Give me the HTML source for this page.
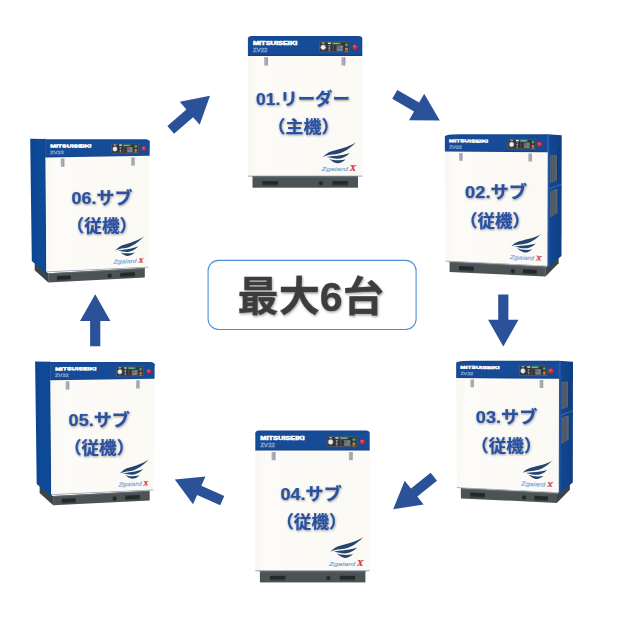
<!DOCTYPE html>
<html lang="ja"><head><meta charset="utf-8"><title>最大6台</title>
<style>
html,body{margin:0;padding:0;background:#fff}
body{width:620px;height:621px;position:relative;overflow:hidden;font-family:"Liberation Sans",sans-serif}
svg{display:block;position:absolute;left:0;top:0}
svg text{font-family:"Liberation Sans","Noto Sans CJK JP",sans-serif}
svg text.sx{font-family:"Liberation Serif",serif}
</style></head><body>
<svg width="620" height="621" viewBox="0 0 620 621">
<defs>
<linearGradient id="gbody" x1="0" y1="0" x2="1" y2="0"><stop offset="0" stop-color="#f8f7f2"/><stop offset=".1" stop-color="#fcfbf7"/><stop offset="1" stop-color="#faf9f4"/></linearGradient>
<linearGradient id="ghead" x1="0" y1="0" x2="0" y2="1"><stop offset="0" stop-color="#154892"/><stop offset=".2" stop-color="#174c98"/><stop offset=".9" stop-color="#164a95"/><stop offset="1" stop-color="#113c7e"/></linearGradient>
<linearGradient id="gsideR" x1="0" y1="0" x2="1" y2="0"><stop offset="0" stop-color="#124994"/><stop offset="1" stop-color="#0e3f86"/></linearGradient>
<linearGradient id="gsideL" x1="0" y1="0" x2="1" y2="0"><stop offset="0" stop-color="#0b448f"/><stop offset=".4" stop-color="#0e4a97"/><stop offset=".9" stop-color="#0e4995"/><stop offset="1" stop-color="#0b3f84"/></linearGradient>
<filter id="tsh" x="-5%" y="-20%" width="110%" height="150%"><feDropShadow dx=".5" dy="1" stdDeviation=".9" flood-color="#000" flood-opacity=".38"/></filter>
<filter id="csh" x="-5%" y="-20%" width="110%" height="150%"><feDropShadow dx=".8" dy="1.4" stdDeviation="1.2" flood-color="#000" flood-opacity=".35"/></filter>
</defs>
<rect width="620" height="621" fill="#fff"/>
<g transform="translate(247.9 35.9)">
<rect x="4.6" y="140" width="105.5" height="11.8" fill="#4c5355"/>
<polygon points="4.6,140.3 110.1,140.3 110.1,141.54 4.6,141.54" fill="#676e71" opacity=".85"/>
<polygon points="14.58,145.24 30.15,145.24 30.15,150.09 14.58,150.09" fill="#3b4143"/>
<polygon points="14.58,145.24 30.15,145.24 30.15,148.66 14.58,148.66" fill="#24282a"/>
<polygon points="84.55,145.24 99.82,145.24 99.82,150.09 84.55,150.09" fill="#3b4143"/>
<polygon points="84.55,145.24 99.82,145.24 99.82,148.66 84.55,148.66" fill="#24282a"/>
<circle cx="73.07" cy="147.33" r="2.5" fill="#3a4043"/>
<circle cx="73.07" cy="147.33" r="1.7" fill="#222628"/>
<rect x="0" y="19.5" width="114.4" height="120.8" fill="url(#gbody)"/>
<rect x="0" y="139.8" width="114.4" height=".8" fill="#3a4a72" opacity=".6"/>
<path d="M0,20 V2.6 Q0.3,0.3 3.6,0 H110.8 Q114.1,0.3 114.4,2.6 V20 Z" fill="url(#ghead)"/>
<polygon points="16.3,21.3 20.1,21.3 20.1,29.6 16.3,29.6" fill="#a9adb9"/>
<polygon points="18.9,21.3 20.1,21.3 20.1,29.6 18.9,29.6" fill="#8e93a1" opacity=".55"/>
<polygon points="93.6,21.3 97.4,21.3 97.4,29.6 93.6,29.6" fill="#a9adb9"/>
<polygon points="96.2,21.3 97.4,21.3 97.4,29.6 96.2,29.6" fill="#8e93a1" opacity=".55"/>
<g transform="matrix(1.0000 0.0000 0.0000 1.0000 0.0000 0.0000)" fill="#fff" stroke="#fff" stroke-width=".45" stroke-linejoin="round"><text x="5" y="9.25" font-size="4.8" font-weight="bold" textLength="44.4" lengthAdjust="spacingAndGlyphs">MITSUISEIKI</text></g>
<g transform="matrix(1.0000 0.0000 0.0000 1.0000 0.0000 0.0000)" fill="none" stroke="#b9cbea" stroke-width=".55" opacity=".6"><text x="5.1" y="16.2" font-size="4.7" textLength="14.5" lengthAdjust="spacingAndGlyphs" fill="#b9cbea">ZV22</text></g>
<g transform="matrix(1.0000 0.0000 0.0000 1.0000 0.0000 0.0000)"><g transform="translate(0 0) scale(1 1)">
<rect x="71.3" y="5.8" width="30.7" height="10.4" rx=".6" fill="#30363a"/>
<rect x="71.6" y="6.1" width="30.1" height="9.8" rx=".5" fill="none" stroke="#6c757b" stroke-width=".5"/>
<circle cx="75.3" cy="11.4" r="2.4" fill="#e9edef"/>
<circle cx="75.3" cy="11.4" r="2.5" fill="none" stroke="#aeb6bd" stroke-width=".5"/>
<rect x="73.8" y="6.6" width="3" height="1.1" fill="#dfe3e6" opacity=".8"/>
<rect x="80" y="6.7" width="3.2" height="1.3" fill="#f0f2f3"/>
<rect x="84.4" y="6.6" width="8.4" height="1.9" fill="#3b9468"/>
<rect x="85.4" y="7.1" width="5.4" height=".9" fill="#8fd3ac" opacity=".8"/>
<rect x="80.6" y="9.3" width="1.7" height=".85" fill="#b9bfc4"/>
<rect x="84.7" y="9.3" width="1.2" height=".85" fill="#a5454b"/>
<rect x="80.6" y="10.85" width="1.7" height=".85" fill="#b9bfc4"/>
<rect x="84.7" y="10.85" width="1.2" height=".85" fill="#a5454b"/>
<rect x="80.6" y="12.4" width="1.7" height=".85" fill="#b9bfc4"/>
<rect x="84.7" y="12.4" width="1.2" height=".85" fill="#a5454b"/>
<rect x="80.6" y="13.95" width="1.7" height=".85" fill="#b9bfc4"/>
<rect x="84.7" y="13.95" width="1.2" height=".85" fill="#a5454b"/>
<rect x="88.6" y="9.4" width="6.6" height="5.9" fill="#5d6b78"/>
<rect x="89.2" y="10" width="2.2" height="2" fill="#a9555d"/>
<rect x="92.2" y="10" width="2.4" height="2" fill="#7f8d99"/>
<rect x="89.2" y="12.8" width="5.4" height="2" fill="#76838f"/>
<circle cx="98.6" cy="8.9" r="1.55" fill="#3fa57c"/>
<circle cx="98.6" cy="13.2" r="1.55" fill="#e0782f"/>
<rect x="96.8" y="15" width="3.6" height=".7" fill="#9aa3aa" opacity=".7"/>
</g></g>
<g transform="matrix(1.0000 0.0000 0.0000 1.0000 0.0000 0.0000)"><circle cx="107.1" cy="11.1" r="2.5" fill="#d62833"/><circle cx="106.6" cy="10.5" r="1.2" fill="#ee6e73" opacity=".8"/></g>
<g transform="matrix(1.0000 0.0000 0.0000 1.0000 0.0000 0.0000)"><g transform="translate(70.1 102.1) scale(0.07097)" fill="#25446f">
<path d="M537,60 C470,112 330,150 192,186 C140,204 100,234 70,267 C110,249 160,238 212,234 C300,228 407,193 537,60Z"/>
<path d="M116,268 C200,250 330,252 447,210 C402,263 332,290 270,292 C220,292 180,274 116,268Z"/>
<path d="M158,291 C210,315 300,323 390,304 C352,340 300,358 270,355 C230,348 190,321 158,291Z"/>
</g></g>
<g transform="matrix(1.0000 0.0000 0.0000 1.0000 0.0000 0.0000)" fill="#78a6da" stroke="#78a6da" stroke-width=".18"><text x="73.6" y="135.6" font-size="6.1" font-style="italic" textLength="26.3" lengthAdjust="spacingAndGlyphs">Zgaiard</text></g>
<g transform="matrix(1.0000 0.0000 0.0000 1.0000 0.0000 0.0000)" fill="#cf3347" stroke="#cf3347" stroke-width=".15"><text class="sx" x="101.8" y="135.6" font-size="7.3" font-style="italic" font-weight="bold" textLength="6.4" lengthAdjust="spacingAndGlyphs">X</text></g>
</g>
<g transform="translate(0 0)">
<polygon points="545.5,267.6 547.3,266 558.6,257.6 558.6,263.3 545.5,276.5" fill="#3d4446"/>
<polygon points="449.6,261.7 545.7,266.6 545.7,276.4 449.6,271.9" fill="#4c5355"/>
<polygon points="449.6,261.7 545.7,266.6 545.7,267.65 449.6,262.8" fill="#676e71" opacity=".85"/>
<polygon points="459.03,266.04 473.59,266.76 473.59,271.77 459.03,271.08" fill="#3b4143"/>
<polygon points="459.03,266.04 473.59,266.76 473.59,270.52 459.03,269.82" fill="#24282a"/>
<polygon points="523.12,269.21 536.67,269.88 536.67,274.76 523.12,274.12" fill="#3b4143"/>
<polygon points="523.12,269.21 536.67,269.88 536.67,273.54 523.12,272.89" fill="#24282a"/>
<circle cx="512.84" cy="271" r="2.5" fill="#3a4043"/>
<circle cx="512.84" cy="271" r="1.7" fill="#222628"/>
<polygon points="547.5,134.3 561.7,135.3 561.5,255.9 547.3,267.2" fill="url(#gsideR)"/>
<polygon points="547.5,134.3 549.4,134.5 549.2,265.7 547.3,267.2" fill="#2f5fae" opacity=".7"/>
<polygon points="550.1,155.6 557,155 557,180.4 550.1,183" fill="#5b6674"/>
<polygon points="550.1,191 557.4,188.8 557.4,213 550.1,217.6" fill="#5b6674"/>
<line x1="551.6" y1="156" x2="551.6" y2="181.5" stroke="#444e5b" stroke-width=".7"/>
<line x1="551.6" y1="190.6" x2="551.6" y2="215.5" stroke="#444e5b" stroke-width=".7"/>
<line x1="553.3" y1="156" x2="553.3" y2="181.5" stroke="#444e5b" stroke-width=".7"/>
<line x1="553.3" y1="190.6" x2="553.3" y2="215.5" stroke="#444e5b" stroke-width=".7"/>
<line x1="555" y1="156" x2="555" y2="181.5" stroke="#444e5b" stroke-width=".7"/>
<line x1="555" y1="190.6" x2="555" y2="215.5" stroke="#444e5b" stroke-width=".7"/>
<line x1="557.5" y1="154.5" x2="557.5" y2="181" stroke="#12306a" stroke-width=".9"/>
<line x1="549.6" y1="188.6" x2="561.6" y2="184.2" stroke="#7f95bb" stroke-width=".6" opacity=".85"/>
<rect x="558.8" y="148" width=".9" height="3.4" fill="#12306a"/>
<rect x="559.6" y="171" width=".9" height="4" fill="#12306a"/>
<polygon points="444.95,151.19 547.65,151.85 547.3,266.1 445.6,261.2" fill="url(#gbody)"/>
<polygon points="445.6,260.75 547.3,265.63 547.3,266.29 445.6,261.38" fill="#3a4a72" opacity=".55"/>
<path d="M444.85,151.62 L444.85,136.2 Q445.5,134.9 452,134.4 L461,134.3 L547.7,134.3 L547.65,152.3 Z" fill="url(#ghead)"/>
<polygon points="459.12,152.93 462.44,152.96 462.47,160.75 459.15,160.72" fill="#a9adb9"/>
<polygon points="461.39,152.95 462.44,152.96 462.47,160.75 461.42,160.74" fill="#8e93a1" opacity=".55"/>
<polygon points="528.38,153.42 531.88,153.45 531.87,161.44 528.37,161.41" fill="#a9adb9"/>
<polygon points="530.77,153.44 531.88,153.45 531.87,161.44 530.76,161.43" fill="#8e93a1" opacity=".55"/>
<g transform="matrix(0.8805 0.0022 0.0034 0.8741 444.6484 134.2453)" fill="#fff" stroke="#fff" stroke-width=".45" stroke-linejoin="round"><text x="5" y="9.25" font-size="4.8" font-weight="bold" textLength="44.4" lengthAdjust="spacingAndGlyphs">MITSUISEIKI</text></g>
<g transform="matrix(0.8713 0.0042 0.0043 0.8689 444.8183 134.2644)" fill="none" stroke="#b9cbea" stroke-width=".55" opacity=".6"><text x="5.1" y="16.2" font-size="4.7" textLength="14.5" lengthAdjust="spacingAndGlyphs" fill="#b9cbea">ZV22</text></g>
<g transform="matrix(0.9160 0.0033 -0.0007 0.8912 442.6508 134.0219)"><g transform="translate(0 -1.1) scale(1 1.1)">
<rect x="71.3" y="5.8" width="30.7" height="10.4" rx=".6" fill="#30363a"/>
<rect x="71.6" y="6.1" width="30.1" height="9.8" rx=".5" fill="none" stroke="#6c757b" stroke-width=".5"/>
<circle cx="75.3" cy="11.4" r="2.4" fill="#e9edef"/>
<circle cx="75.3" cy="11.4" r="2.5" fill="none" stroke="#aeb6bd" stroke-width=".5"/>
<rect x="73.8" y="6.6" width="3" height="1.1" fill="#dfe3e6" opacity=".8"/>
<rect x="80" y="6.7" width="3.2" height="1.3" fill="#f0f2f3"/>
<rect x="84.4" y="6.6" width="8.4" height="1.9" fill="#3b9468"/>
<rect x="85.4" y="7.1" width="5.4" height=".9" fill="#8fd3ac" opacity=".8"/>
<rect x="80.6" y="9.3" width="1.7" height=".85" fill="#b9bfc4"/>
<rect x="84.7" y="9.3" width="1.2" height=".85" fill="#a5454b"/>
<rect x="80.6" y="10.85" width="1.7" height=".85" fill="#b9bfc4"/>
<rect x="84.7" y="10.85" width="1.2" height=".85" fill="#a5454b"/>
<rect x="80.6" y="12.4" width="1.7" height=".85" fill="#b9bfc4"/>
<rect x="84.7" y="12.4" width="1.2" height=".85" fill="#a5454b"/>
<rect x="80.6" y="13.95" width="1.7" height=".85" fill="#b9bfc4"/>
<rect x="84.7" y="13.95" width="1.2" height=".85" fill="#a5454b"/>
<rect x="88.6" y="9.4" width="6.6" height="5.9" fill="#5d6b78"/>
<rect x="89.2" y="10" width="2.2" height="2" fill="#a9555d"/>
<rect x="92.2" y="10" width="2.4" height="2" fill="#7f8d99"/>
<rect x="89.2" y="12.8" width="5.4" height="2" fill="#76838f"/>
<circle cx="98.6" cy="8.9" r="1.55" fill="#3fa57c"/>
<circle cx="98.6" cy="13.2" r="1.55" fill="#e0782f"/>
<rect x="96.8" y="15" width="3.6" height=".7" fill="#9aa3aa" opacity=".7"/>
</g></g>
<g transform="matrix(0.9280 0.0034 -0.0021 0.8970 441.5033 133.9503)"><circle cx="105.8" cy="11.1" r="2.75" fill="#d62833"/><circle cx="105.3" cy="10.5" r="1.2" fill="#ee6e73" opacity=".8"/></g>
<g transform="matrix(0.9114 0.0368 -0.0011 0.9285 443.0873 131.9635)"><g transform="translate(70.1 101.1) scale(0.07097)" fill="#25446f">
<path d="M537,60 C470,112 330,150 192,186 C140,204 100,234 70,267 C110,249 160,238 212,234 C300,228 407,193 537,60Z"/>
<path d="M116,268 C200,250 330,252 447,210 C402,263 332,290 270,292 C220,292 180,274 116,268Z"/>
<path d="M158,291 C210,315 300,323 390,304 C352,340 300,358 270,355 C230,348 190,321 158,291Z"/>
</g></g>
<g transform="matrix(0.9071 0.0416 -0.0008 0.9245 443.4206 132.0295)" fill="#78a6da" stroke="#78a6da" stroke-width=".18"><text x="73.6" y="134.1" font-size="6.1" font-style="italic" textLength="26.3" lengthAdjust="spacingAndGlyphs">Zgaiard</text></g>
<g transform="matrix(0.9182 0.0421 -0.0021 0.9301 442.5381 131.2439)" fill="#cf3347" stroke="#cf3347" stroke-width=".15"><text class="sx" x="101.8" y="134.1" font-size="7.3" font-style="italic" font-weight="bold" textLength="6.4" lengthAdjust="spacingAndGlyphs">X</text></g>
</g>
<g transform="translate(11.3 226.5)">
<polygon points="545.5,267.6 547.3,266 558.6,257.6 558.6,263.3 545.5,276.5" fill="#3d4446"/>
<polygon points="449.6,261.7 545.7,266.6 545.7,276.4 449.6,271.9" fill="#4c5355"/>
<polygon points="449.6,261.7 545.7,266.6 545.7,267.65 449.6,262.8" fill="#676e71" opacity=".85"/>
<polygon points="459.03,266.04 473.59,266.76 473.59,271.77 459.03,271.08" fill="#3b4143"/>
<polygon points="459.03,266.04 473.59,266.76 473.59,270.52 459.03,269.82" fill="#24282a"/>
<polygon points="523.12,269.21 536.67,269.88 536.67,274.76 523.12,274.12" fill="#3b4143"/>
<polygon points="523.12,269.21 536.67,269.88 536.67,273.54 523.12,272.89" fill="#24282a"/>
<circle cx="512.84" cy="271" r="2.5" fill="#3a4043"/>
<circle cx="512.84" cy="271" r="1.7" fill="#222628"/>
<polygon points="547.5,134.3 561.7,135.3 561.5,255.9 547.3,267.2" fill="url(#gsideR)"/>
<polygon points="547.5,134.3 549.4,134.5 549.2,265.7 547.3,267.2" fill="#2f5fae" opacity=".7"/>
<polygon points="550.1,155.6 557,155 557,180.4 550.1,183" fill="#5b6674"/>
<polygon points="550.1,191 557.4,188.8 557.4,213 550.1,217.6" fill="#5b6674"/>
<line x1="551.6" y1="156" x2="551.6" y2="181.5" stroke="#444e5b" stroke-width=".7"/>
<line x1="551.6" y1="190.6" x2="551.6" y2="215.5" stroke="#444e5b" stroke-width=".7"/>
<line x1="553.3" y1="156" x2="553.3" y2="181.5" stroke="#444e5b" stroke-width=".7"/>
<line x1="553.3" y1="190.6" x2="553.3" y2="215.5" stroke="#444e5b" stroke-width=".7"/>
<line x1="555" y1="156" x2="555" y2="181.5" stroke="#444e5b" stroke-width=".7"/>
<line x1="555" y1="190.6" x2="555" y2="215.5" stroke="#444e5b" stroke-width=".7"/>
<line x1="557.5" y1="154.5" x2="557.5" y2="181" stroke="#12306a" stroke-width=".9"/>
<line x1="549.6" y1="188.6" x2="561.6" y2="184.2" stroke="#7f95bb" stroke-width=".6" opacity=".85"/>
<rect x="558.8" y="148" width=".9" height="3.4" fill="#12306a"/>
<rect x="559.6" y="171" width=".9" height="4" fill="#12306a"/>
<polygon points="444.95,151.19 547.65,151.85 547.3,266.1 445.6,261.2" fill="url(#gbody)"/>
<polygon points="445.6,260.75 547.3,265.63 547.3,266.29 445.6,261.38" fill="#3a4a72" opacity=".55"/>
<path d="M444.85,151.62 L444.85,136.2 Q445.5,134.9 452,134.4 L461,134.3 L547.7,134.3 L547.65,152.3 Z" fill="url(#ghead)"/>
<polygon points="459.12,152.93 462.44,152.96 462.47,160.75 459.15,160.72" fill="#a9adb9"/>
<polygon points="461.39,152.95 462.44,152.96 462.47,160.75 461.42,160.74" fill="#8e93a1" opacity=".55"/>
<polygon points="528.38,153.42 531.88,153.45 531.87,161.44 528.37,161.41" fill="#a9adb9"/>
<polygon points="530.77,153.44 531.88,153.45 531.87,161.44 530.76,161.43" fill="#8e93a1" opacity=".55"/>
<g transform="matrix(0.8805 0.0022 0.0034 0.8741 444.6484 134.2453)" fill="#fff" stroke="#fff" stroke-width=".45" stroke-linejoin="round"><text x="5" y="9.25" font-size="4.8" font-weight="bold" textLength="44.4" lengthAdjust="spacingAndGlyphs">MITSUISEIKI</text></g>
<g transform="matrix(0.8713 0.0042 0.0043 0.8689 444.8183 134.2644)" fill="none" stroke="#b9cbea" stroke-width=".55" opacity=".6"><text x="5.1" y="16.2" font-size="4.7" textLength="14.5" lengthAdjust="spacingAndGlyphs" fill="#b9cbea">ZV22</text></g>
<g transform="matrix(0.9160 0.0033 -0.0007 0.8912 442.6508 134.0219)"><g transform="translate(0 -1.1) scale(1 1.1)">
<rect x="71.3" y="5.8" width="30.7" height="10.4" rx=".6" fill="#30363a"/>
<rect x="71.6" y="6.1" width="30.1" height="9.8" rx=".5" fill="none" stroke="#6c757b" stroke-width=".5"/>
<circle cx="75.3" cy="11.4" r="2.4" fill="#e9edef"/>
<circle cx="75.3" cy="11.4" r="2.5" fill="none" stroke="#aeb6bd" stroke-width=".5"/>
<rect x="73.8" y="6.6" width="3" height="1.1" fill="#dfe3e6" opacity=".8"/>
<rect x="80" y="6.7" width="3.2" height="1.3" fill="#f0f2f3"/>
<rect x="84.4" y="6.6" width="8.4" height="1.9" fill="#3b9468"/>
<rect x="85.4" y="7.1" width="5.4" height=".9" fill="#8fd3ac" opacity=".8"/>
<rect x="80.6" y="9.3" width="1.7" height=".85" fill="#b9bfc4"/>
<rect x="84.7" y="9.3" width="1.2" height=".85" fill="#a5454b"/>
<rect x="80.6" y="10.85" width="1.7" height=".85" fill="#b9bfc4"/>
<rect x="84.7" y="10.85" width="1.2" height=".85" fill="#a5454b"/>
<rect x="80.6" y="12.4" width="1.7" height=".85" fill="#b9bfc4"/>
<rect x="84.7" y="12.4" width="1.2" height=".85" fill="#a5454b"/>
<rect x="80.6" y="13.95" width="1.7" height=".85" fill="#b9bfc4"/>
<rect x="84.7" y="13.95" width="1.2" height=".85" fill="#a5454b"/>
<rect x="88.6" y="9.4" width="6.6" height="5.9" fill="#5d6b78"/>
<rect x="89.2" y="10" width="2.2" height="2" fill="#a9555d"/>
<rect x="92.2" y="10" width="2.4" height="2" fill="#7f8d99"/>
<rect x="89.2" y="12.8" width="5.4" height="2" fill="#76838f"/>
<circle cx="98.6" cy="8.9" r="1.55" fill="#3fa57c"/>
<circle cx="98.6" cy="13.2" r="1.55" fill="#e0782f"/>
<rect x="96.8" y="15" width="3.6" height=".7" fill="#9aa3aa" opacity=".7"/>
</g></g>
<g transform="matrix(0.9280 0.0034 -0.0021 0.8970 441.5033 133.9503)"><circle cx="105.8" cy="11.1" r="2.75" fill="#d62833"/><circle cx="105.3" cy="10.5" r="1.2" fill="#ee6e73" opacity=".8"/></g>
<g transform="matrix(0.9114 0.0368 -0.0011 0.9285 443.0873 131.9635)"><g transform="translate(70.1 101.1) scale(0.07097)" fill="#25446f">
<path d="M537,60 C470,112 330,150 192,186 C140,204 100,234 70,267 C110,249 160,238 212,234 C300,228 407,193 537,60Z"/>
<path d="M116,268 C200,250 330,252 447,210 C402,263 332,290 270,292 C220,292 180,274 116,268Z"/>
<path d="M158,291 C210,315 300,323 390,304 C352,340 300,358 270,355 C230,348 190,321 158,291Z"/>
</g></g>
<g transform="matrix(0.9071 0.0416 -0.0008 0.9245 443.4206 132.0295)" fill="#78a6da" stroke="#78a6da" stroke-width=".18"><text x="73.6" y="134.1" font-size="6.1" font-style="italic" textLength="26.3" lengthAdjust="spacingAndGlyphs">Zgaiard</text></g>
<g transform="matrix(0.9182 0.0421 -0.0021 0.9301 442.5381 131.2439)" fill="#cf3347" stroke="#cf3347" stroke-width=".15"><text class="sx" x="101.8" y="134.1" font-size="7.3" font-style="italic" font-weight="bold" textLength="6.4" lengthAdjust="spacingAndGlyphs">X</text></g>
</g>
<g transform="translate(255.3 430.6)">
<rect x="4.6" y="140" width="105.5" height="11.8" fill="#4c5355"/>
<polygon points="4.6,140.3 110.1,140.3 110.1,141.54 4.6,141.54" fill="#676e71" opacity=".85"/>
<polygon points="14.58,145.24 30.15,145.24 30.15,150.09 14.58,150.09" fill="#3b4143"/>
<polygon points="14.58,145.24 30.15,145.24 30.15,148.66 14.58,148.66" fill="#24282a"/>
<polygon points="84.55,145.24 99.82,145.24 99.82,150.09 84.55,150.09" fill="#3b4143"/>
<polygon points="84.55,145.24 99.82,145.24 99.82,148.66 84.55,148.66" fill="#24282a"/>
<circle cx="73.07" cy="147.33" r="2.5" fill="#3a4043"/>
<circle cx="73.07" cy="147.33" r="1.7" fill="#222628"/>
<rect x="0" y="19.5" width="114.4" height="120.8" fill="url(#gbody)"/>
<rect x="0" y="139.8" width="114.4" height=".8" fill="#3a4a72" opacity=".6"/>
<path d="M0,20 V2.6 Q0.3,0.3 3.6,0 H110.8 Q114.1,0.3 114.4,2.6 V20 Z" fill="url(#ghead)"/>
<polygon points="16.3,21.3 20.1,21.3 20.1,29.6 16.3,29.6" fill="#a9adb9"/>
<polygon points="18.9,21.3 20.1,21.3 20.1,29.6 18.9,29.6" fill="#8e93a1" opacity=".55"/>
<polygon points="93.6,21.3 97.4,21.3 97.4,29.6 93.6,29.6" fill="#a9adb9"/>
<polygon points="96.2,21.3 97.4,21.3 97.4,29.6 96.2,29.6" fill="#8e93a1" opacity=".55"/>
<g transform="matrix(1.0000 0.0000 0.0000 1.0000 0.0000 0.0000)" fill="#fff" stroke="#fff" stroke-width=".45" stroke-linejoin="round"><text x="5" y="9.25" font-size="4.8" font-weight="bold" textLength="44.4" lengthAdjust="spacingAndGlyphs">MITSUISEIKI</text></g>
<g transform="matrix(1.0000 0.0000 0.0000 1.0000 0.0000 0.0000)" fill="none" stroke="#b9cbea" stroke-width=".55" opacity=".6"><text x="5.1" y="16.2" font-size="4.7" textLength="14.5" lengthAdjust="spacingAndGlyphs" fill="#b9cbea">ZV22</text></g>
<g transform="matrix(1.0000 0.0000 0.0000 1.0000 0.0000 0.0000)"><g transform="translate(0 0) scale(1 1)">
<rect x="71.3" y="5.8" width="30.7" height="10.4" rx=".6" fill="#30363a"/>
<rect x="71.6" y="6.1" width="30.1" height="9.8" rx=".5" fill="none" stroke="#6c757b" stroke-width=".5"/>
<circle cx="75.3" cy="11.4" r="2.4" fill="#e9edef"/>
<circle cx="75.3" cy="11.4" r="2.5" fill="none" stroke="#aeb6bd" stroke-width=".5"/>
<rect x="73.8" y="6.6" width="3" height="1.1" fill="#dfe3e6" opacity=".8"/>
<rect x="80" y="6.7" width="3.2" height="1.3" fill="#f0f2f3"/>
<rect x="84.4" y="6.6" width="8.4" height="1.9" fill="#3b9468"/>
<rect x="85.4" y="7.1" width="5.4" height=".9" fill="#8fd3ac" opacity=".8"/>
<rect x="80.6" y="9.3" width="1.7" height=".85" fill="#b9bfc4"/>
<rect x="84.7" y="9.3" width="1.2" height=".85" fill="#a5454b"/>
<rect x="80.6" y="10.85" width="1.7" height=".85" fill="#b9bfc4"/>
<rect x="84.7" y="10.85" width="1.2" height=".85" fill="#a5454b"/>
<rect x="80.6" y="12.4" width="1.7" height=".85" fill="#b9bfc4"/>
<rect x="84.7" y="12.4" width="1.2" height=".85" fill="#a5454b"/>
<rect x="80.6" y="13.95" width="1.7" height=".85" fill="#b9bfc4"/>
<rect x="84.7" y="13.95" width="1.2" height=".85" fill="#a5454b"/>
<rect x="88.6" y="9.4" width="6.6" height="5.9" fill="#5d6b78"/>
<rect x="89.2" y="10" width="2.2" height="2" fill="#a9555d"/>
<rect x="92.2" y="10" width="2.4" height="2" fill="#7f8d99"/>
<rect x="89.2" y="12.8" width="5.4" height="2" fill="#76838f"/>
<circle cx="98.6" cy="8.9" r="1.55" fill="#3fa57c"/>
<circle cx="98.6" cy="13.2" r="1.55" fill="#e0782f"/>
<rect x="96.8" y="15" width="3.6" height=".7" fill="#9aa3aa" opacity=".7"/>
</g></g>
<g transform="matrix(1.0000 0.0000 0.0000 1.0000 0.0000 0.0000)"><circle cx="107.1" cy="11.1" r="2.5" fill="#d62833"/><circle cx="106.6" cy="10.5" r="1.2" fill="#ee6e73" opacity=".8"/></g>
<g transform="matrix(1.0000 0.0000 0.0000 1.0000 0.0000 0.0000)"><g transform="translate(70.1 102.1) scale(0.07097)" fill="#25446f">
<path d="M537,60 C470,112 330,150 192,186 C140,204 100,234 70,267 C110,249 160,238 212,234 C300,228 407,193 537,60Z"/>
<path d="M116,268 C200,250 330,252 447,210 C402,263 332,290 270,292 C220,292 180,274 116,268Z"/>
<path d="M158,291 C210,315 300,323 390,304 C352,340 300,358 270,355 C230,348 190,321 158,291Z"/>
</g></g>
<g transform="matrix(1.0000 0.0000 0.0000 1.0000 0.0000 0.0000)" fill="#78a6da" stroke="#78a6da" stroke-width=".18"><text x="73.6" y="135.6" font-size="6.1" font-style="italic" textLength="26.3" lengthAdjust="spacingAndGlyphs">Zgaiard</text></g>
<g transform="matrix(1.0000 0.0000 0.0000 1.0000 0.0000 0.0000)" fill="#cf3347" stroke="#cf3347" stroke-width=".15"><text class="sx" x="101.8" y="135.6" font-size="7.3" font-style="italic" font-weight="bold" textLength="6.4" lengthAdjust="spacingAndGlyphs">X</text></g>
</g>
<g transform="translate(4.9 222.8)">
<polygon points="34.7,263 48.3,273.6 48.3,282.4 34.7,270.2" fill="#3d4446"/>
<polygon points="48.2,273.3 144.8,268 144.8,277.6 48.2,282.4" fill="#4c5355"/>
<polygon points="48.2,273.3 144.8,268 144.8,269.03 48.2,274.28" fill="#676e71" opacity=".85"/>
<polygon points="56.91,276.3 70.66,275.57 70.66,280.14 56.91,280.83" fill="#3b4143"/>
<polygon points="56.91,276.3 70.66,275.57 70.66,279 56.91,279.7" fill="#24282a"/>
<polygon points="120.44,272.94 134.92,272.17 134.92,276.91 120.44,277.64" fill="#3b4143"/>
<polygon points="120.44,272.94 134.92,272.17 134.92,275.72 120.44,276.46" fill="#24282a"/>
<circle cx="109.71" cy="275.69" r="2.5" fill="#3a4043"/>
<circle cx="109.71" cy="275.69" r="1.7" fill="#222628"/>
<polygon points="30.2,138.8 45.6,139 46.4,272.4 48.5,274 47.6,274.6 34.7,263.6 31.8,261.1" fill="url(#gsideL)"/>
<polygon points="44.6,138.6 45.6,138.6 46.4,272.4 45.5,271.6" fill="#0a3a7c" opacity=".5"/>
<polygon points="45.43,157.07 149.62,155.41 148.4,267.2 46.3,272" fill="url(#gbody)"/>
<polygon points="46.3,271.54 148.4,266.75 148.4,267.38 46.3,272.19" fill="#3a4a72" opacity=".55"/>
<path d="M45.44,157.53 L45.3,139.2 L146,139.3 Q149.2,139.7 149.8,141.5 L149.62,155.83 Z" fill="url(#ghead)"/>
<polygon points="60.77,158.56 64.32,158.5 64.35,166.68 60.81,166.74" fill="#a9adb9"/>
<polygon points="63.2,158.52 64.32,158.5 64.35,166.68 63.23,166.7" fill="#8e93a1" opacity=".55"/>
<polygon points="131.24,157.42 134.61,157.36 134.54,165.61 131.18,165.66" fill="#a9adb9"/>
<polygon points="133.55,157.38 134.61,157.36 134.54,165.61 133.48,165.62" fill="#8e93a1" opacity=".55"/>
<g transform="matrix(0.9303 -0.0057 0.0027 0.8963 45.5625 139.3625)" fill="#fff" stroke="#fff" stroke-width=".45" stroke-linejoin="round"><text x="5" y="9.25" font-size="4.8" font-weight="bold" textLength="44.4" lengthAdjust="spacingAndGlyphs">MITSUISEIKI</text></g>
<g transform="matrix(0.9385 -0.0111 0.0050 0.9057 45.3745 139.3650)" fill="none" stroke="#b9cbea" stroke-width=".55" opacity=".6"><text x="5.1" y="16.2" font-size="4.7" textLength="14.5" lengthAdjust="spacingAndGlyphs" fill="#b9cbea">ZV22</text></g>
<g transform="matrix(0.8942 -0.0080 -0.0056 0.8511 47.6861 139.9113)"><g transform="translate(0 -1.1) scale(1 1.1)">
<rect x="71.3" y="5.8" width="30.7" height="10.4" rx=".6" fill="#30363a"/>
<rect x="71.6" y="6.1" width="30.1" height="9.8" rx=".5" fill="none" stroke="#6c757b" stroke-width=".5"/>
<circle cx="75.3" cy="11.4" r="2.4" fill="#e9edef"/>
<circle cx="75.3" cy="11.4" r="2.5" fill="none" stroke="#aeb6bd" stroke-width=".5"/>
<rect x="73.8" y="6.6" width="3" height="1.1" fill="#dfe3e6" opacity=".8"/>
<rect x="80" y="6.7" width="3.2" height="1.3" fill="#f0f2f3"/>
<rect x="84.4" y="6.6" width="8.4" height="1.9" fill="#3b9468"/>
<rect x="85.4" y="7.1" width="5.4" height=".9" fill="#8fd3ac" opacity=".8"/>
<rect x="80.6" y="9.3" width="1.7" height=".85" fill="#b9bfc4"/>
<rect x="84.7" y="9.3" width="1.2" height=".85" fill="#a5454b"/>
<rect x="80.6" y="10.85" width="1.7" height=".85" fill="#b9bfc4"/>
<rect x="84.7" y="10.85" width="1.2" height=".85" fill="#a5454b"/>
<rect x="80.6" y="12.4" width="1.7" height=".85" fill="#b9bfc4"/>
<rect x="84.7" y="12.4" width="1.2" height=".85" fill="#a5454b"/>
<rect x="80.6" y="13.95" width="1.7" height=".85" fill="#b9bfc4"/>
<rect x="84.7" y="13.95" width="1.2" height=".85" fill="#a5454b"/>
<rect x="88.6" y="9.4" width="6.6" height="5.9" fill="#5d6b78"/>
<rect x="89.2" y="10" width="2.2" height="2" fill="#a9555d"/>
<rect x="92.2" y="10" width="2.4" height="2" fill="#7f8d99"/>
<rect x="89.2" y="12.8" width="5.4" height="2" fill="#76838f"/>
<circle cx="98.6" cy="8.9" r="1.55" fill="#3fa57c"/>
<circle cx="98.6" cy="13.2" r="1.55" fill="#e0782f"/>
<rect x="96.8" y="15" width="3.6" height=".7" fill="#9aa3aa" opacity=".7"/>
</g></g>
<g transform="matrix(0.8819 -0.0080 -0.0083 0.8356 48.9155 140.0788)"><circle cx="107.9" cy="11.1" r="2.75" fill="#d62833"/><circle cx="107.4" cy="10.5" r="1.2" fill="#ee6e73" opacity=".8"/></g>
<g transform="matrix(0.8756 -0.0346 -0.0067 0.9078 49.3811 144.4626)"><g transform="translate(70.8 101.1) scale(0.07097)" fill="#25446f">
<path d="M537,60 C470,112 330,150 192,186 C140,204 100,234 70,267 C110,249 160,238 212,234 C300,228 407,193 537,60Z"/>
<path d="M116,268 C200,250 330,252 447,210 C402,263 332,290 270,292 C220,292 180,274 116,268Z"/>
<path d="M158,291 C210,315 300,323 390,304 C352,340 300,358 270,355 C230,348 190,321 158,291Z"/>
</g></g>
<g transform="matrix(0.8761 -0.0392 -0.0060 0.9044 49.2399 145.2954)" fill="#78a6da" stroke="#78a6da" stroke-width=".18"><text x="74.3" y="134.2" font-size="6.1" font-style="italic" textLength="26.3" lengthAdjust="spacingAndGlyphs">Zgaiard</text></g>
<g transform="matrix(0.8662 -0.0388 -0.0085 0.8994 50.5342 145.9240)" fill="#cf3347" stroke="#cf3347" stroke-width=".15"><text class="sx" x="102.5" y="134.2" font-size="7.3" font-style="italic" font-weight="bold" textLength="6.4" lengthAdjust="spacingAndGlyphs">X</text></g>
</g>
<g transform="translate(0 0)">
<polygon points="34.7,263 48.3,273.6 48.3,282.4 34.7,270.2" fill="#3d4446"/>
<polygon points="48.2,273.3 144.8,268 144.8,277.6 48.2,282.4" fill="#4c5355"/>
<polygon points="48.2,273.3 144.8,268 144.8,269.03 48.2,274.28" fill="#676e71" opacity=".85"/>
<polygon points="56.91,276.3 70.66,275.57 70.66,280.14 56.91,280.83" fill="#3b4143"/>
<polygon points="56.91,276.3 70.66,275.57 70.66,279 56.91,279.7" fill="#24282a"/>
<polygon points="120.44,272.94 134.92,272.17 134.92,276.91 120.44,277.64" fill="#3b4143"/>
<polygon points="120.44,272.94 134.92,272.17 134.92,275.72 120.44,276.46" fill="#24282a"/>
<circle cx="109.71" cy="275.69" r="2.5" fill="#3a4043"/>
<circle cx="109.71" cy="275.69" r="1.7" fill="#222628"/>
<polygon points="30.2,138.8 45.6,139 46.4,272.4 48.5,274 47.6,274.6 34.7,263.6 31.8,261.1" fill="url(#gsideL)"/>
<polygon points="44.6,138.6 45.6,138.6 46.4,272.4 45.5,271.6" fill="#0a3a7c" opacity=".5"/>
<polygon points="45.43,157.07 149.62,155.41 148.4,267.2 46.3,272" fill="url(#gbody)"/>
<polygon points="46.3,271.54 148.4,266.75 148.4,267.38 46.3,272.19" fill="#3a4a72" opacity=".55"/>
<path d="M45.44,157.53 L45.3,139.2 L146,139.3 Q149.2,139.7 149.8,141.5 L149.62,155.83 Z" fill="url(#ghead)"/>
<polygon points="60.77,158.56 64.32,158.5 64.35,166.68 60.81,166.74" fill="#a9adb9"/>
<polygon points="63.2,158.52 64.32,158.5 64.35,166.68 63.23,166.7" fill="#8e93a1" opacity=".55"/>
<polygon points="131.24,157.42 134.61,157.36 134.54,165.61 131.18,165.66" fill="#a9adb9"/>
<polygon points="133.55,157.38 134.61,157.36 134.54,165.61 133.48,165.62" fill="#8e93a1" opacity=".55"/>
<g transform="matrix(0.9303 -0.0057 0.0027 0.8963 45.5625 139.3625)" fill="#fff" stroke="#fff" stroke-width=".45" stroke-linejoin="round"><text x="5" y="9.25" font-size="4.8" font-weight="bold" textLength="44.4" lengthAdjust="spacingAndGlyphs">MITSUISEIKI</text></g>
<g transform="matrix(0.9385 -0.0111 0.0050 0.9057 45.3745 139.3650)" fill="none" stroke="#b9cbea" stroke-width=".55" opacity=".6"><text x="5.1" y="16.2" font-size="4.7" textLength="14.5" lengthAdjust="spacingAndGlyphs" fill="#b9cbea">ZV22</text></g>
<g transform="matrix(0.8942 -0.0080 -0.0056 0.8511 47.6861 139.9113)"><g transform="translate(0 -1.1) scale(1 1.1)">
<rect x="71.3" y="5.8" width="30.7" height="10.4" rx=".6" fill="#30363a"/>
<rect x="71.6" y="6.1" width="30.1" height="9.8" rx=".5" fill="none" stroke="#6c757b" stroke-width=".5"/>
<circle cx="75.3" cy="11.4" r="2.4" fill="#e9edef"/>
<circle cx="75.3" cy="11.4" r="2.5" fill="none" stroke="#aeb6bd" stroke-width=".5"/>
<rect x="73.8" y="6.6" width="3" height="1.1" fill="#dfe3e6" opacity=".8"/>
<rect x="80" y="6.7" width="3.2" height="1.3" fill="#f0f2f3"/>
<rect x="84.4" y="6.6" width="8.4" height="1.9" fill="#3b9468"/>
<rect x="85.4" y="7.1" width="5.4" height=".9" fill="#8fd3ac" opacity=".8"/>
<rect x="80.6" y="9.3" width="1.7" height=".85" fill="#b9bfc4"/>
<rect x="84.7" y="9.3" width="1.2" height=".85" fill="#a5454b"/>
<rect x="80.6" y="10.85" width="1.7" height=".85" fill="#b9bfc4"/>
<rect x="84.7" y="10.85" width="1.2" height=".85" fill="#a5454b"/>
<rect x="80.6" y="12.4" width="1.7" height=".85" fill="#b9bfc4"/>
<rect x="84.7" y="12.4" width="1.2" height=".85" fill="#a5454b"/>
<rect x="80.6" y="13.95" width="1.7" height=".85" fill="#b9bfc4"/>
<rect x="84.7" y="13.95" width="1.2" height=".85" fill="#a5454b"/>
<rect x="88.6" y="9.4" width="6.6" height="5.9" fill="#5d6b78"/>
<rect x="89.2" y="10" width="2.2" height="2" fill="#a9555d"/>
<rect x="92.2" y="10" width="2.4" height="2" fill="#7f8d99"/>
<rect x="89.2" y="12.8" width="5.4" height="2" fill="#76838f"/>
<circle cx="98.6" cy="8.9" r="1.55" fill="#3fa57c"/>
<circle cx="98.6" cy="13.2" r="1.55" fill="#e0782f"/>
<rect x="96.8" y="15" width="3.6" height=".7" fill="#9aa3aa" opacity=".7"/>
</g></g>
<g transform="matrix(0.8819 -0.0080 -0.0083 0.8356 48.9155 140.0788)"><circle cx="107.9" cy="11.1" r="2.75" fill="#d62833"/><circle cx="107.4" cy="10.5" r="1.2" fill="#ee6e73" opacity=".8"/></g>
<g transform="matrix(0.8756 -0.0346 -0.0067 0.9078 49.3811 144.4626)"><g transform="translate(70.8 101.1) scale(0.07097)" fill="#25446f">
<path d="M537,60 C470,112 330,150 192,186 C140,204 100,234 70,267 C110,249 160,238 212,234 C300,228 407,193 537,60Z"/>
<path d="M116,268 C200,250 330,252 447,210 C402,263 332,290 270,292 C220,292 180,274 116,268Z"/>
<path d="M158,291 C210,315 300,323 390,304 C352,340 300,358 270,355 C230,348 190,321 158,291Z"/>
</g></g>
<g transform="matrix(0.8761 -0.0392 -0.0060 0.9044 49.2399 145.2954)" fill="#78a6da" stroke="#78a6da" stroke-width=".18"><text x="74.3" y="134.2" font-size="6.1" font-style="italic" textLength="26.3" lengthAdjust="spacingAndGlyphs">Zgaiard</text></g>
<g transform="matrix(0.8662 -0.0388 -0.0085 0.8994 50.5342 145.9240)" fill="#cf3347" stroke="#cf3347" stroke-width=".15"><text class="sx" x="102.5" y="134.2" font-size="7.3" font-style="italic" font-weight="bold" textLength="6.4" lengthAdjust="spacingAndGlyphs">X</text></g>
</g>
<polygon transform="translate(210 95.8) rotate(-40.9)" points="0,0 -26.8,-15.2 -26.8,-5.1 -52,-5.1 -52,5.1 -26.8,5.1 -26.8,15.2" fill="#2b5299"/>
<polygon transform="translate(439.8 120.4) rotate(30)" points="0,0 -26.8,-15.2 -26.8,-5.1 -52,-5.1 -52,5.1 -26.8,5.1 -26.8,15.2" fill="#2b5299"/>
<polygon transform="translate(503.3 346.5) rotate(90)" points="0,0 -26.8,-15.2 -26.8,-5.1 -52,-5.1 -52,5.1 -26.8,5.1 -26.8,15.2" fill="#2b5299"/>
<polygon transform="translate(393.2 509.3) rotate(141.4)" points="0,0 -26.8,-15.2 -26.8,-5.1 -52,-5.1 -52,5.1 -26.8,5.1 -26.8,15.2" fill="#2b5299"/>
<polygon transform="translate(174.8 479.4) rotate(204.2)" points="0,0 -26.8,-15.2 -26.8,-5.1 -52,-5.1 -52,5.1 -26.8,5.1 -26.8,15.2" fill="#2b5299"/>
<polygon transform="translate(95.2 294.2) rotate(-90)" points="0,0 -26.8,-15.2 -26.8,-5.1 -52,-5.1 -52,5.1 -26.8,5.1 -26.8,15.2" fill="#2b5299"/>
<g fill="#2a51a0" stroke="#2a51a0" stroke-width=".22" filter="url(#tsh)" font-size="17" font-weight="bold">
<text x="256" y="104.5" textLength="94" lengthAdjust="spacingAndGlyphs">01.リーダー</text>
<text x="267.5" y="132.9" textLength="71.9" lengthAdjust="spacingAndGlyphs">（主機）</text>
</g>
<g fill="#2a51a0" stroke="#2a51a0" stroke-width=".22" filter="url(#tsh)" font-size="17" font-weight="bold">
<text x="465.1" y="198.3" textLength="62" lengthAdjust="spacingAndGlyphs">02.サブ</text>
<text x="460" y="226.5" textLength="70.1" lengthAdjust="spacingAndGlyphs">（従機）</text>
</g>
<g fill="#2a51a0" stroke="#2a51a0" stroke-width=".22" filter="url(#tsh)" font-size="17" font-weight="bold">
<text x="475.8" y="422.9" textLength="61.5" lengthAdjust="spacingAndGlyphs">03.サブ</text>
<text x="471.1" y="451.5" textLength="70.4" lengthAdjust="spacingAndGlyphs">（従機）</text>
</g>
<g fill="#2a51a0" stroke="#2a51a0" stroke-width=".22" filter="url(#tsh)" font-size="17" font-weight="bold">
<text x="280.5" y="499.5" textLength="61.2" lengthAdjust="spacingAndGlyphs">04.サブ</text>
<text x="276.2" y="527.9" textLength="70.4" lengthAdjust="spacingAndGlyphs">（従機）</text>
</g>
<g fill="#2a51a0" stroke="#2a51a0" stroke-width=".22" filter="url(#tsh)" font-size="17" font-weight="bold">
<text x="68.6" y="425.8" textLength="61.3" lengthAdjust="spacingAndGlyphs">05.サブ</text>
<text x="63.9" y="453.6" textLength="70.4" lengthAdjust="spacingAndGlyphs">（従機）</text>
</g>
<g fill="#2a51a0" stroke="#2a51a0" stroke-width=".22" filter="url(#tsh)" font-size="17" font-weight="bold">
<text x="71.6" y="203.7" textLength="60.7" lengthAdjust="spacingAndGlyphs">06.サブ</text>
<text x="66.6" y="232.2" textLength="70.7" lengthAdjust="spacingAndGlyphs">（従機）</text>
</g>
<rect x="208.1" y="260.4" width="208" height="69.1" rx="10.5" fill="#fff" stroke="#4a90d9" stroke-width="1.1"/>
<g fill="#3d3d3d" stroke="#3d3d3d" stroke-width=".3" filter="url(#csh)"><text x="237.5" y="311" font-size="41" font-weight="bold" textLength="146.4" lengthAdjust="spacingAndGlyphs">最大6台</text></g>
</svg>
</body></html>
